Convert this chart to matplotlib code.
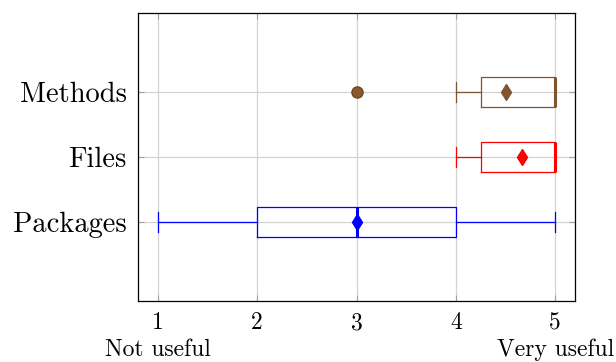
import matplotlib.pyplot as plt

plt.rcParams['font.family'] = ['cmr10', 'DejaVu Serif']
plt.rcParams['mathtext.fontset'] = 'cm'
plt.rcParams['axes.formatter.use_mathtext'] = True

# data
categories = ['Packages', 'Files', 'Methods']
whisker_low = [1, 4, 4]
q1 = [2, 4.25, 4.25]
medians = [3, 5, 5]
q3 = [4, 5, 5]
whisker_high = [5, 5, 5]
means = [3, 4.67, 4.5]
outliers = [[], [], [3]]
colors = ['#0000ff', '#ff0000', '#7f5430']

fig = plt.figure(figsize=(6.16, 3.62), dpi=100)
ax = fig.add_axes([0.224, 0.1685, 0.7095, 0.7955])

for i, cat in enumerate(categories):
    stats = [{
        'label': cat,
        'whislo': whisker_low[i],
        'q1': q1[i],
        'med': medians[i],
        'q3': q3[i],
        'whishi': whisker_high[i],
        'mean': means[i],
        'fliers': outliers[i],
    }]
    c = colors[i]
    ax.bxp(stats, positions=[i + 1], vert=False, widths=0.46, capwidths=0.3,
           showmeans=True, showfliers=True,
           boxprops=dict(color=c, lw=0.9),
           whiskerprops=dict(color=c, lw=0.9),
           capprops=dict(color=c, lw=0.9),
           medianprops=dict(color=c, lw=2.2),
           meanprops=dict(marker='d', markerfacecolor=c, markeredgecolor=c,
                          markersize=8.5),
           flierprops=dict(marker='o', markerfacecolor='#8a5a2c',
                           markeredgecolor='#6e4622', markersize=8))

ax.set_xlim(0.8, 5.2)
ax.set_ylim(-0.215, 4.215)
ax.set_xticks([1, 2, 3, 4, 5])
ax.set_xticklabels(['1', '2', '3', '4', '5'], fontsize=17)
ax.set_yticks([1, 2, 3])
ax.set_yticklabels(categories, fontsize=20.5)

ax.grid(True, color='#d3d3d3', lw=0.9)
ax.set_axisbelow(True)
ax.tick_params(direction='in', length=4, color='#a0a0a0', top=True, right=True,
               pad=8)
for s in ax.spines.values():
    s.set_linewidth(0.9)

ax.text(1, -0.17, 'Not useful', transform=ax.get_xaxis_transform(),
        ha='center', va='center', fontsize=17)
ax.text(5, -0.17, 'Very useful', transform=ax.get_xaxis_transform(),
        ha='center', va='center', fontsize=17)

fig.savefig('out.png', dpi=100)
